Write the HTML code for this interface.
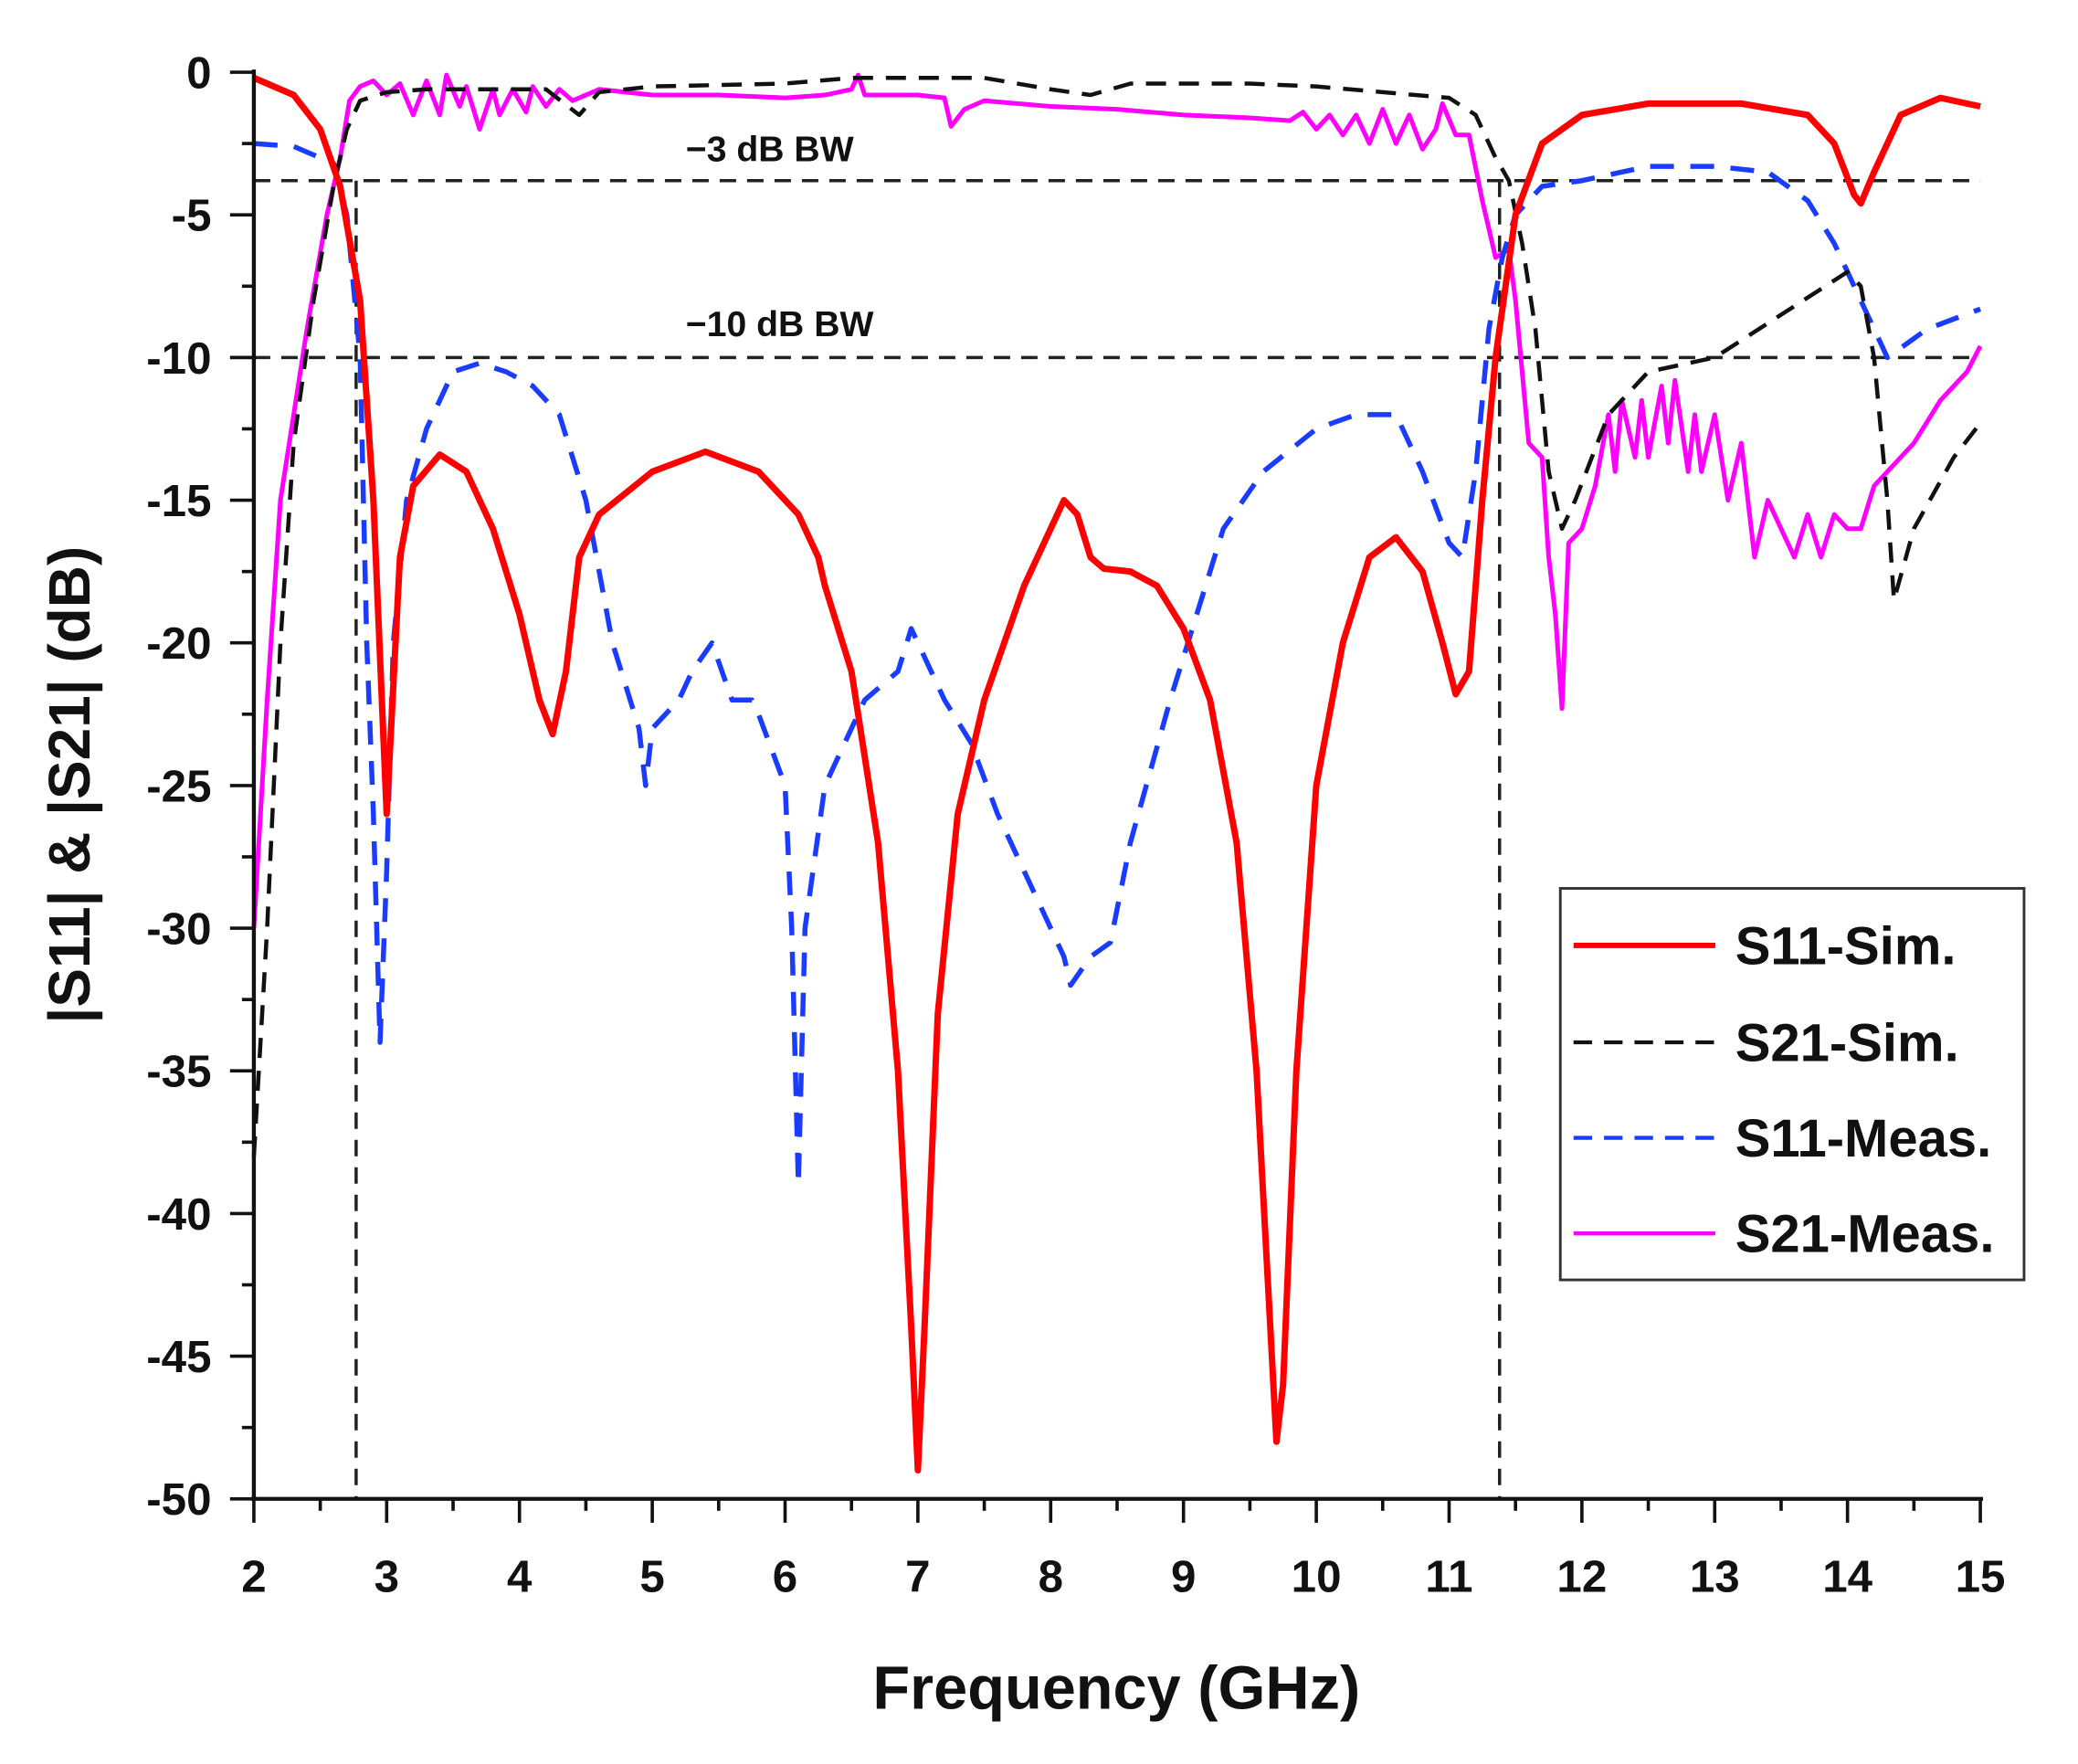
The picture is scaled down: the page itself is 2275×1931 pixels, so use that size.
<!DOCTYPE html>
<html><head><meta charset="utf-8"><style>
html,body{margin:0;padding:0;background:#fff;}
svg{display:block;}
text{font-family:"Liberation Sans",Arial,sans-serif;font-weight:bold;fill:#111;}
</style></head><body>
<svg width="2275" height="1931" viewBox="0 0 1552 1324" preserveAspectRatio="none" xmlns="http://www.w3.org/2000/svg">
<rect x="0" y="0" width="1552" height="1324" fill="#fff"/>
<g transform="matrix(0.9896,0,0,0.9961,-0.4,-0.6)">
<g id="plot" transform="translate(192,55) scale(100.23,-21.5) translate(-2,0)" fill="none" stroke-linejoin="round">
<polyline vector-effect="non-scaling-stroke" stroke="#222" stroke-width="3.5" stroke-dasharray="18,12" points="2,-3.8 15,-3.8"/>
<polyline vector-effect="non-scaling-stroke" stroke="#222" stroke-width="3.5" stroke-dasharray="18,12" points="2,-10 15,-10"/>
<polyline vector-effect="non-scaling-stroke" stroke="#222" stroke-width="3.5" stroke-dasharray="18,12" points="2.77,-3.8 2.77,-50"/>
<polyline vector-effect="non-scaling-stroke" stroke="#222" stroke-width="3.5" stroke-dasharray="18,12" points="11.38,-3.8 11.38,-50"/>
<polyline vector-effect="non-scaling-stroke" stroke="#f0f" stroke-width="5" points="2,-30 2.1,-22 2.2,-15 2.4,-9 2.55,-5 2.65,-3 2.72,-1 2.8,-0.5 2.9,-0.3 3.0,-0.8 3.1,-0.4 3.2,-1.5 3.3,-0.3 3.4,-1.5 3.45,-0.1 3.55,-1.2 3.6,-0.5 3.7,-2 3.8,-0.6 3.85,-1.5 3.95,-0.6 4.05,-1.4 4.1,-0.5 4.2,-1.2 4.3,-0.6 4.4,-1 4.6,-0.6 5,-0.8 5.5,-0.8 6,-0.9 6.3,-0.8 6.5,-0.6 6.55,-0.1 6.6,-0.8 7,-0.8 7.2,-0.9 7.25,-1.9 7.35,-1.3 7.5,-1 8,-1.2 8.5,-1.3 9,-1.5 9.5,-1.6 9.8,-1.7 9.9,-1.4 10,-2 10.1,-1.5 10.2,-2.2 10.3,-1.5 10.4,-2.5 10.5,-1.3 10.6,-2.5 10.7,-1.5 10.8,-2.7 10.9,-2 10.95,-1.1 11.05,-2.2 11.15,-2.2 11.25,-4.5 11.35,-6.5 11.45,-6.2 11.5,-8 11.6,-13 11.7,-13.5 11.75,-17 11.8,-19 11.85,-22.3 11.9,-16.5 12,-16 12.1,-14.5 12.2,-12 12.25,-14 12.3,-11.5 12.4,-13.5 12.45,-11.5 12.5,-13.5 12.6,-11 12.65,-13 12.7,-10.8 12.8,-14 12.85,-12 12.9,-14 13,-12 13.1,-15 13.2,-13 13.3,-17 13.4,-15 13.5,-16 13.6,-17 13.7,-15.5 13.8,-17 13.9,-15.5 14,-16 14.1,-16 14.2,-14.5 14.3,-14 14.5,-13 14.7,-11.5 14.9,-10.5 15,-9.6"/>
<polyline vector-effect="non-scaling-stroke" stroke="#1a3cff" stroke-width="5.5" stroke-dasharray="26,18" points="2,-2.5 2.3,-2.6 2.6,-3.2 2.7,-5 2.8,-10 2.85,-20 2.9,-26 2.95,-34 3.0,-28 3.05,-20 3.15,-15 3.3,-12.5 3.5,-10.5 3.7,-10.2 3.9,-10.5 4.1,-11 4.3,-12 4.5,-15 4.7,-20 4.9,-23 4.95,-25 5.0,-23 5.2,-22 5.3,-21 5.45,-20 5.6,-22 5.75,-22 5.8,-22.5 6.0,-25 6.05,-30 6.1,-39 6.15,-30 6.3,-25 6.6,-22 6.85,-21 6.95,-19.5 7.1,-21 7.2,-22 7.4,-23.5 7.6,-26 7.9,-29 8.1,-31 8.15,-32 8.3,-31 8.45,-30.5 8.6,-27 8.9,-22 9.1,-19 9.3,-16 9.6,-14 10,-12.5 10.3,-12 10.6,-12 10.8,-14 11,-16.5 11.1,-17 11.2,-14 11.3,-9 11.4,-6.5 11.5,-5 11.7,-4 12,-3.8 12.5,-3.3 13,-3.3 13.4,-3.5 13.7,-4.5 13.9,-6 14.1,-8 14.3,-10 14.6,-9 15,-8.3"/>
<polyline vector-effect="non-scaling-stroke" stroke="#111" stroke-width="4.5" stroke-dasharray="22,14" points="2,-38 2.1,-30 2.2,-20 2.3,-13 2.45,-8 2.6,-4 2.7,-2 2.8,-1 3.0,-0.7 3.3,-0.6 4.0,-0.6 4.2,-0.6 4.45,-1.5 4.6,-0.7 5,-0.5 6,-0.4 6.5,-0.2 7.5,-0.2 8,-0.6 8.3,-0.8 8.6,-0.4 9.5,-0.4 10,-0.5 10.5,-0.7 11,-0.9 11.2,-1.5 11.35,-3 11.45,-3.8 11.55,-6 11.65,-9 11.75,-14 11.85,-16 11.95,-15 12.2,-12 12.5,-10.5 13,-10 13.5,-8.5 14.0,-7 14.1,-7.5 14.2,-10 14.3,-15 14.35,-18.5 14.5,-16 14.8,-13.5 15,-12.3"/>
<polyline vector-effect="non-scaling-stroke" stroke="#f00" stroke-width="7" points="2,-0.2 2.3,-0.8 2.5,-2 2.65,-4 2.8,-8 2.9,-15 3.0,-26 3.1,-17 3.2,-14.5 3.4,-13.4 3.6,-14 3.8,-16 4.0,-19 4.15,-22 4.25,-23.2 4.35,-21 4.45,-17 4.6,-15.5 5.0,-14 5.4,-13.3 5.8,-14 6.1,-15.5 6.25,-17 6.3,-18 6.5,-21 6.7,-27 6.85,-35 6.95,-44 7.0,-49 7.05,-44 7.15,-33 7.3,-26 7.5,-22 7.8,-18 8.0,-16 8.1,-15 8.2,-15.5 8.3,-17 8.4,-17.4 8.6,-17.5 8.8,-18 9.0,-19.5 9.2,-22 9.4,-27 9.55,-35 9.7,-48 9.75,-46 9.85,-35 10.0,-25 10.2,-20 10.4,-17 10.6,-16.3 10.8,-17.5 10.95,-20 11.05,-21.8 11.15,-21 11.25,-15 11.35,-10 11.5,-5 11.7,-2.5 12,-1.5 12.5,-1.1 13.2,-1.1 13.7,-1.5 13.9,-2.5 14.05,-4.3 14.1,-4.6 14.2,-3.5 14.4,-1.5 14.7,-0.9 15,-1.2"/>
</g>
<g stroke="#111" stroke-width="3" fill="none">
<line x1="192" y1="53" x2="192" y2="1131"/>
<line x1="190" y1="1130" x2="1497" y2="1130"/>
</g>
<g stroke="#111" stroke-width="2.5" id="ticks"></g>
<g id="labels" font-size="34"></g>
<text x="68" y="592" font-size="44" text-anchor="middle" transform="rotate(-90 68 592)">|S11| &amp; |S21| (dB)</text>
<text x="843" y="1288" font-size="46" text-anchor="middle">Frequency (GHz)</text>
<text x="518" y="122" font-size="27">−3 dB BW</text>
<text x="518" y="254" font-size="27">−10 dB BW</text>
<rect x="1178" y="670" width="350" height="295" fill="#fff" stroke="#333" stroke-width="2"/>
<line x1="1188" y1="713" x2="1295" y2="713" stroke="#f00" stroke-width="4"/>
<line x1="1188" y1="786" x2="1295" y2="786" stroke="#111" stroke-width="3" stroke-dasharray="14,9"/>
<line x1="1188" y1="858" x2="1295" y2="858" stroke="#1a3cff" stroke-width="3" stroke-dasharray="14,9"/>
<line x1="1188" y1="930" x2="1295" y2="930" stroke="#f0f" stroke-width="3"/>
<text x="1310" y="727" font-size="40">S11-Sim.</text>
<text x="1310" y="800" font-size="40">S21-Sim.</text>
<text x="1310" y="872" font-size="40">S11-Meas.</text>
<text x="1310" y="944" font-size="40">S21-Meas.</text>
</g>
<script>
(function(){
var ns="http://www.w3.org/2000/svg",t=document.getElementById("ticks"),l=document.getElementById("labels");
function ln(x1,y1,x2,y2){var e=document.createElementNS(ns,"line");e.setAttribute("x1",x1);e.setAttribute("y1",y1);e.setAttribute("x2",x2);e.setAttribute("y2",y2);t.appendChild(e);}
function tx(x,y,s,a){var e=document.createElementNS(ns,"text");e.setAttribute("x",x);e.setAttribute("y",y);e.setAttribute("text-anchor",a);e.textContent=s;l.appendChild(e);}
for(var i=0;i<=26;i++){var f=2+i*0.5,x=192+(f-2)*100.23;ln(x,1130,x,i%2?1139:1148);if(i%2==0)tx(x,1200,String(f),"middle");}
for(var j=0;j<=20;j++){var d=-j*2.5,y=55-d*21.5;ln(192,y,j%2?183:174,y);if(j%2==0)tx(160,y+12,d==0?"0":String(d),"end");}
})();
</script>
</svg>
</body></html>
